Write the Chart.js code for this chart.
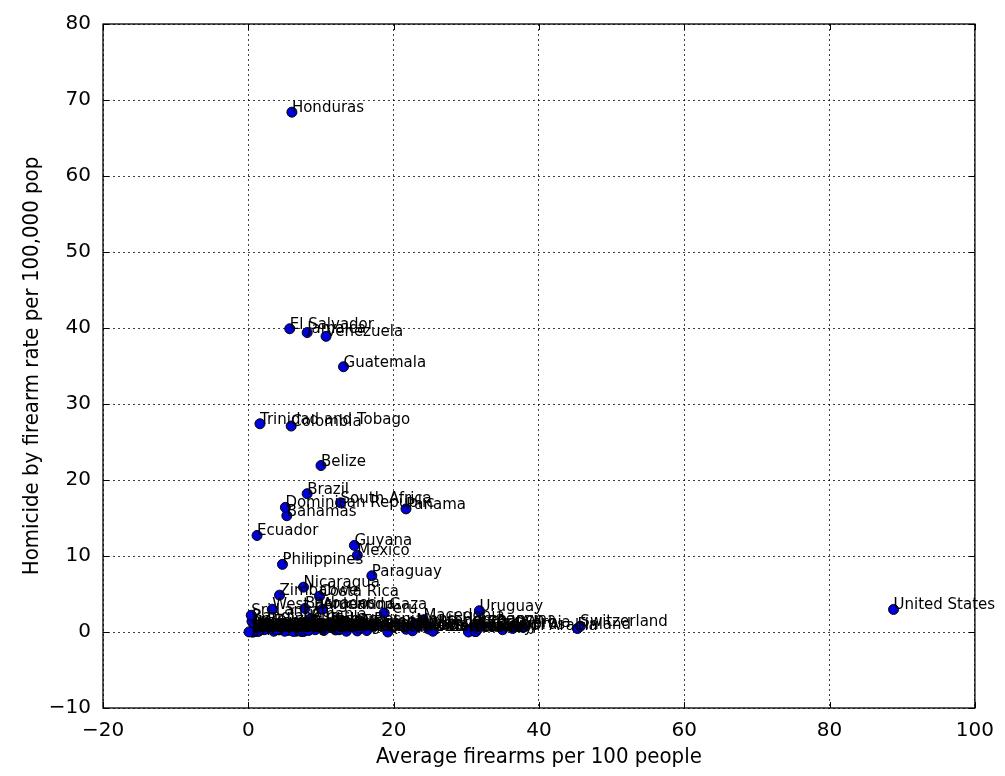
<!DOCTYPE html>
<html>
<head>
<meta charset="utf-8">
<script src="https://cdn.jsdelivr.net/npm/chart.js@4.4.1/dist/chart.umd.min.js"></script>
<style>
  body { margin: 0; background: #fff; }
  #wrap { width: 1005px; height: 776px; position: relative; }
</style>
</head>
<body>
<div id="wrap"><canvas id="scatterID"></canvas></div>
<script>
'use strict';

// countries, average firearms per 100 people, homicide by firearm rate per 100,000
const countries = [
  'Albania','Algeria','Argentina','Armenia','Australia','Austria','Azerbaijan','Bahamas',
  'Bangladesh','Barbados','Belarus','Belgium','Belize','Bolivia','Bosnia and Herzegovina','Brazil',
  'Bulgaria','Canada','Chile','Colombia','Costa Rica','Croatia','Cyprus','Czech Republic',
  'Denmark','Dominican Republic','Ecuador','Egypt','El Salvador','Estonia','Finland','France',
  'Georgia','Germany','Greece','Guatemala','Guyana','Honduras','Hungary','Iceland',
  'India','Indonesia','Ireland','Israel','Italy','Jamaica','Japan','Jordan',
  'Kazakhstan','Kenya','Kuwait','Kyrgyzstan','Latvia','Lebanon','Lithuania','Luxembourg',
  'Macedonia','Malaysia','Malta','Mauritius','Mexico','Moldova','Mongolia','Montenegro',
  'Morocco','Myanmar','Nepal','Netherlands','New Zealand','Nicaragua','Niger','Norway',
  'Oman','Panama','Paraguay','Peru','Philippines','Poland','Portugal','Qatar',
  'Romania','Saudi Arabia','Serbia','Singapore','Slovakia','Slovenia','South Africa','Spain',
  'Sri Lanka','Sweden','Switzerland','Thailand','Trinidad and Tobago','Tunisia','Turkey','Uganda',
  'Ukraine','United Kingdom','United States','Uruguay','Venezuela','West Bank and Gaza','Zimbabwe'
];
const firearms = [
  8.6, 7.6, 10.2, 12.5, 15.0, 30.4, 3.5, 5.3,
  0.5, 7.8, 7.3, 17.2, 10.0, 2.6, 17.3, 8.1,
  6.2, 30.8, 10.7, 5.9, 9.8, 21.7, 36.4, 16.3,
  12.0, 5.1, 1.2, 3.5, 5.7, 9.2, 45.3, 31.2,
  7.3, 30.3, 22.5, 13.1, 14.6, 6.0, 5.5, 30.3,
  4.2, 0.5, 8.6, 7.3, 11.9, 8.1, 0.6, 11.4,
  1.3, 1.5, 24.8, 1.6, 2.2, 31.9, 0.7, 15.3,
  24.1, 1.5, 11.9, 3.5, 15.0, 7.1, 11.5, 23.1,
  5.0, 1.1, 1.4, 3.9, 22.6, 7.6, 0.8, 31.3,
  25.4, 21.7, 17.0, 18.7, 4.7, 1.3, 8.5, 19.2,
  0.7, 35.0, 37.8, 0.5, 8.3, 13.5, 12.7, 10.4,
  0.4, 31.6, 45.7, 15.6, 1.6, 0.1, 12.5, 1.4,
  6.6, 6.2, 88.8, 31.8, 10.7, 3.3, 4.3
];
const homicideRate = [
  1.76, 0.06, 3.0, 0.29, 0.14, 0.22, 0.27, 15.3,
  1.4, 3.1, 0.1, 0.68, 21.9, 1.0, 1.0, 18.2,
  0.27, 0.51, 1.06, 27.1, 4.7, 0.36, 0.46, 0.19,
  0.27, 16.4, 12.7, 0.8, 39.9, 0.3, 0.45, 0.06,
  0.4, 0.19, 0.26, 34.9, 11.4, 68.4, 0.2, 0.0,
  0.28, 0.04, 0.48, 0.09, 0.71, 39.4, 0.0, 1.0,
  0.4, 0.3, 0.4, 0.5, 0.3, 1.0, 0.2, 0.5,
  1.6, 0.2, 0.5, 0.1, 10.1, 0.3, 0.6, 0.9,
  0.1, 0.1, 0.1, 0.33, 0.16, 5.9, 0.6, 0.05,
  0.1, 16.2, 7.4, 2.5, 8.9, 0.09, 0.48, 0.0,
  0.02, 0.3, 0.6, 0.02, 0.2, 0.1, 17.0, 0.2,
  2.2, 0.41, 0.77, 0.8, 27.4, 0.01, 0.4, 0.6,
  0.1, 0.07, 2.97, 2.8, 38.9, 3.0, 4.85
];

const xTicks = [-20, 0, 20, 40, 60, 80, 100];
const yTicks = [-10, 0, 10, 20, 30, 40, 50, 60, 70, 80];

const points = [];
for (let i = 0; i < countries.length; i++) {
  points.push({ x: firearms[i], y: homicideRate[i] });
}

const minusSign = (v) => String(v).replace('-', '\u2212');

// country names written next to every point
const labelPlugin = {
  id: 'pointLabels',
  afterDatasetsDraw(chart) {
    const ctx = chart.ctx;
    const meta = chart.getDatasetMeta(0);
    ctx.save();
    ctx.font = '15px "DejaVu Sans"';
    ctx.fillStyle = '#000';
    ctx.textAlign = 'left';
    ctx.textBaseline = 'alphabetic';
    meta.data.forEach((pt, i) => {
      ctx.fillText(countries[i], pt.x, pt.y);
    });
    ctx.restore();
  }
};

// black frame with inward ticks on all four sides
const framePlugin = {
  id: 'frame',
  afterDraw(chart) {
    const ctx = chart.ctx;
    const a = chart.chartArea;
    const sx = chart.scales.x;
    const sy = chart.scales.y;
    const len = 6;
    ctx.save();
    ctx.strokeStyle = '#000';
    ctx.lineWidth = 1.3;
    ctx.strokeRect(a.left, a.top, a.right - a.left, a.bottom - a.top);
    ctx.lineWidth = 1;
    ctx.beginPath();
    xTicks.forEach(v => {
      const px = Math.round(sx.getPixelForValue(v)) + 0.5;
      ctx.moveTo(px, a.bottom); ctx.lineTo(px, a.bottom - len);
      ctx.moveTo(px, a.top); ctx.lineTo(px, a.top + len);
    });
    yTicks.forEach(v => {
      const py = Math.round(sy.getPixelForValue(v)) + 0.5;
      ctx.moveTo(a.left, py); ctx.lineTo(a.left + len, py);
      ctx.moveTo(a.right, py); ctx.lineTo(a.right - len, py);
    });
    ctx.stroke();
    ctx.restore();
  }
};

const data = {
  datasets: [{
    label: 'countries',
    data: points,
    backgroundColor: '#0000dd',
    borderColor: '#000',
    borderWidth: 1,
    pointRadius: 5,
    pointHoverRadius: 5
  }]
};

const gridStyle = {
  color: 'rgba(0,0,0,0.75)',
  lineWidth: 1,
  drawTicks: false
};

const config = {
  type: 'scatter',
  data: data,
  plugins: [labelPlugin, framePlugin],
  options: {
    responsive: true,
    maintainAspectRatio: false,
    animation: false,
    events: [],
    layout: { padding: { top: 21, right: 30, left: 0, bottom: 0 } },
    plugins: {
      legend: { display: false },
      tooltip: { enabled: false }
    },
    scales: {
      x: {
        type: 'linear',
        min: -20,
        max: 100,
        afterBuildTicks: (s) => { s.ticks = xTicks.map(v => ({ value: v })); },
        afterFit: (s) => { s.height = 68; },
        ticks: {
          color: '#000',
          padding: 11,
          font: { family: 'DejaVu Sans', size: 20 },
          callback: minusSign,
          maxRotation: 0
        },
        grid: gridStyle,
        border: { display: false, dash: [2, 3] },
        title: {
          display: true,
          text: 'Average firearms per 100 people',
          color: '#000',
          font: { family: 'DejaVu Sans Condensed', size: 22, lineHeight: 1 },
          padding: { top: 0, bottom: 8 }
        }
      },
      y: {
        type: 'linear',
        min: -10,
        max: 80,
        afterBuildTicks: (s) => { s.ticks = yTicks.map(v => ({ value: v })); },
        afterFit: (s) => { s.width = 103; },
        ticks: {
          color: '#000',
          padding: 12,
          font: { family: 'DejaVu Sans', size: 20 },
          callback: minusSign
        },
        grid: gridStyle,
        border: { display: false, dash: [2, 3] },
        title: {
          display: true,
          text: 'Homicide by firearm rate per 100,000 pop',
          color: '#000',
          font: { family: 'DejaVu Sans Condensed', size: 22, lineHeight: 1 },
          padding: { top: 21, bottom: 0 }
        }
      }
    }
  }
};

const scatterChart = new Chart(
  document.getElementById('scatterID'),
  config
);
</script>
</body>
</html>
